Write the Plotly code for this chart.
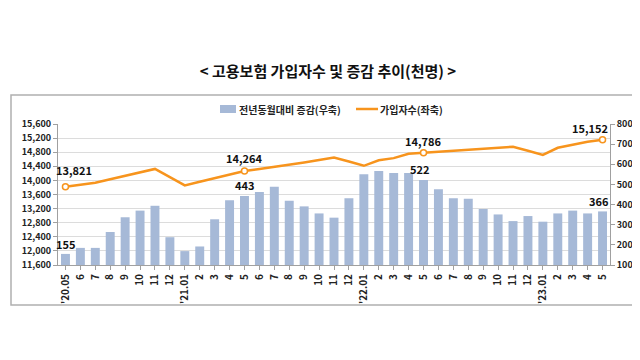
import plotly.graph_objects as go

months = ["'20.05", "6", "7", "8", "9", "10", "11", "12",
          "'21.01", "2", "3", "4", "5", "6", "7", "8", "9", "10", "11", "12",
          "'22.01", "2", "3", "4", "5", "6", "7", "8", "9", "10", "11", "12",
          "'23.01", "2", "3", "4", "5"]

# 전년동월대비 증감 (천명, 우축)
change = [155, 185, 185, 264, 337, 370, 394, 238,
          169, 192, 327, 422, 443, 463, 488, 419, 391, 356, 335, 432,
          550, 567, 557, 557, 522, 476, 432, 429, 378, 351, 318, 343,
          315, 356, 370, 356, 366]

# 가입자수 (천명, 좌축)
subscribers = [13821, 13877, 13933, 14031, 14129, 14227, 14325, 14093,
               13857, 13961, 14065, 14165, 14264, 14322, 14380, 14442, 14506, 14576, 14646, 14534,
               14414, 14570, 14632, 14758, 14786, 14831, 14862, 14890, 14910, 14932, 14954, 14842,
               14722, 14926, 15010, 15094, 15152]

labeled_idx = [0, 12, 24, 36]
bar_name = "전년동월대비 증감(우축)"
line_name = "가입자수(좌축)"

x = list(range(len(months)))
FONT = "Noto Sans CJK KR"
ORANGE = "#F7941D"
BAR = "#A6B9D7"

fig = go.Figure()

fig.add_trace(go.Bar(
    x=x, y=change, yaxis="y2", name=bar_name, showlegend=False,
    marker=dict(color=BAR, line=dict(width=0)),
))

fig.add_trace(go.Scatter(
    x=x, y=subscribers, yaxis="y", name=line_name, mode="lines", showlegend=False,
    line=dict(color=ORANGE, width=2.5),
))

fig.add_trace(go.Scatter(
    x=[x[i] for i in labeled_idx], y=[subscribers[i] for i in labeled_idx],
    yaxis="y", mode="markers", showlegend=False,
    marker=dict(color="white", size=6, line=dict(color=ORANGE, width=1.5)),
    cliponaxis=False,
))

label_font = dict(family=FONT, size=11, color="#111111", weight="bold")
annotations = []
line_shifts = [(9, 17), (0, 13), (0, 12), (-13, 12)]
bar_shifts = [(0, 10), (0, 11), (-4, 11), (-4, 10)]
for k, i in enumerate(labeled_idx):
    annotations.append(dict(x=x[i], y=subscribers[i], xref="x", yref="y",
                            text=f"{subscribers[i]:,}", showarrow=False,
                            xshift=line_shifts[k][0], yshift=line_shifts[k][1],
                            font=label_font))
    annotations.append(dict(x=x[i], y=change[i], xref="x", yref="y2",
                            text=f"{change[i]:,}", showarrow=False,
                            xshift=bar_shifts[k][0], yshift=bar_shifts[k][1],
                            font=label_font))


def px(v):
    return (v - 50) / 552


def py(v):
    return (257 - v) / 141


legend_font = dict(family=FONT, size=10, color="#222222", weight="bold")
annotations.append(dict(x=px(229), y=py(101), xref="paper", yref="paper",
                        xanchor="left", yanchor="middle", text=bar_name,
                        showarrow=False, font=legend_font))
annotations.append(dict(x=px(370), y=py(101), xref="paper", yref="paper",
                        xanchor="left", yanchor="middle", text=line_name,
                        showarrow=False, font=legend_font))

shapes = [
    dict(type="rect", xref="paper", yref="paper",
         x0=px(3), x1=px(637), y0=py(297), y1=py(87),
         line=dict(color="#B0B0B0", width=1.5), fillcolor="rgba(0,0,0,0)",
         layer="below"),
    dict(type="rect", xref="paper", yref="paper",
         x0=px(212), x1=px(228), y0=py(105), y1=py(97),
         line=dict(width=0), fillcolor=BAR),
    dict(type="line", xref="paper", yref="paper",
         x0=px(348), x1=px(370), y0=py(101), y1=py(101),
         line=dict(color=ORANGE, width=2.5)),
]

fig.update_layout(
    width=640, height=360,
    margin=dict(l=50, r=38, t=116, b=103),
    paper_bgcolor="white", plot_bgcolor="white",
    font=dict(family=FONT, color="#333333"),
    bargap=0.4,
    showlegend=False,
    title=dict(text="< 고용보험 가입자수 및 증감 추이(천명) >",
               x=0.5, xanchor="center", y=0.822, yanchor="middle", yref="container",
               font=dict(family=FONT, size=15, color="#111111", weight="bold")),
    annotations=annotations,
    shapes=shapes,
    xaxis=dict(
        tickmode="array", tickvals=x, ticktext=months, tickangle=-90,
        range=[-0.5, len(months) - 0.5],
        tickfont=dict(family=FONT, size=10, color="#222222", weight="bold"),
        showgrid=False, showline=True, linecolor="#A0A0A0", linewidth=1,
        ticks="outside", tickson="boundaries", ticklen=4, tickcolor="#A0A0A0",
        zeroline=False,
    ),
    yaxis=dict(
        range=[11600, 15600], tickmode="linear", tick0=11600, dtick=400,
        tickformat=",d",
        tickfont=dict(family=FONT, size=9, color="#222222", weight="bold"),
        showgrid=True, gridcolor="#DCDCDC", gridwidth=1,
        showline=True, linecolor="#A0A0A0", linewidth=1,
        ticks="outside", ticklen=4, tickcolor="#A0A0A0", zeroline=False,
    ),
    yaxis2=dict(
        range=[100, 800], tickmode="linear", tick0=100, dtick=100,
        overlaying="y", side="right",
        tickfont=dict(family=FONT, size=9, color="#222222", weight="bold"),
        showgrid=False, showline=True, linecolor="#A0A0A0", linewidth=1,
        ticks="outside", ticklen=4, tickcolor="#A0A0A0", zeroline=False,
    ),
)

fig.write_html("out.html")
